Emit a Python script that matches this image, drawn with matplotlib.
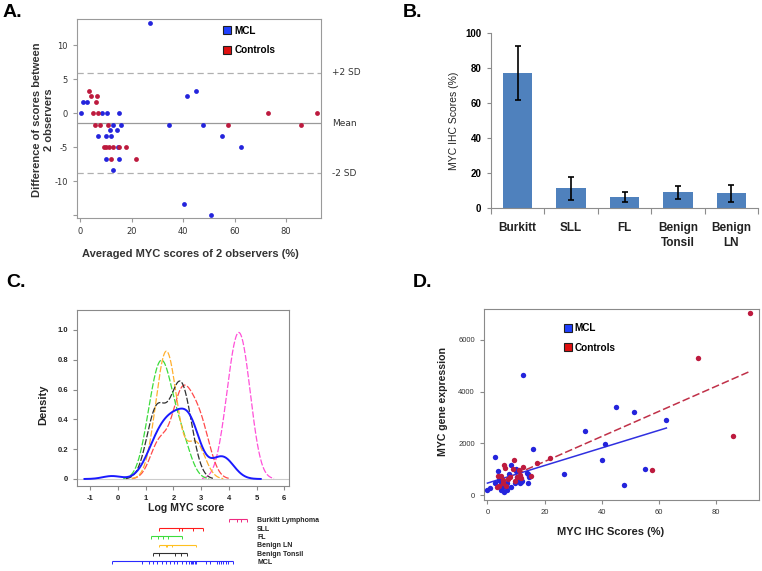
import numpy as np
import matplotlib
matplotlib.use('Agg')
import matplotlib.pyplot as plt
from matplotlib.lines import Line2D
import seaborn as sns

W, H = 762, 571
plt.rcParams['font.family'] = ['Liberation Sans', 'DejaVu Sans']
plt.rcParams['axes.unicode_minus'] = False

# A. agreement between the 2 observers
a_mcl_x = [27.0, 0.3, 1.0, 2.6, 8.6, 10.3, 15.2, 7.0, 10.2, 11.9, 11.5, 14.2, 12.6, 15.9,
           14.7, 10.1, 15.2, 12.6, 34.5, 41.4, 45.2, 47.6, 55.2, 62.6, 40.3, 51.0]
a_mcl_y = [13.33, 0, 1.67, 1.67, 0, 0, 0, -3.33, -3.33, -3.33, -2.5, -2.5, -1.67, -1.67,
           -5, -6.67, -6.67, -8.33, -1.67, 2.5, 3.33, -1.67, -3.33, -5, -13.33, -15]
a_ctl_x = [3.6, 4.1, 6.5, 6.1, 5.2, 7.0, 5.9, 7.7, 11.0, 9.2, 10.1, 11.1, 12.6, 15.0, 17.7,
           11.9, 21.9, 57.5, 73.0, 85.9, 91.9]
a_ctl_y = [3.33, 2.5, 2.5, 1.67, 0, 0, -1.67, -1.67, -1.67, -5, -5, -5, -5, -5, -5,
           -6.67, -6.67, -1.67, 0, -1.67, 0]
a_mean, a_plus2sd, a_minus2sd = -1.45, 5.97, -8.8

# B. MYC IHC scores of the control groups
b_groups = ['Burkitt', 'SLL', 'FL', 'Benign\nTonsil', 'Benign\nLN']
b_means = [77.3, 11.3, 6.3, 9.0, 8.4]
b_err = [15.3, 6.5, 2.6, 3.8, 4.9]

# C. log MYC score per group (rug values)
c_names = ['Burkitt Lymphoma', 'SLL', 'FL', 'Benign LN', 'Benign Tonsil', 'MCL']
c_burkitt = [4.02, 4.30, 4.42, 4.64]
c_sll = [1.49, 2.20, 2.30, 2.70, 3.06]
c_fl = [1.18, 1.45, 1.64, 1.79, 2.30]
c_ln = [1.49, 1.72, 1.78, 1.96, 2.81]
c_tonsil = [1.28, 1.49, 2.06, 2.26, 2.48]
c_mcl_vals = [-0.22, 0.88, 1.13, 1.28, 1.42, 1.58, 1.72, 1.88, 2.02, 2.14, 2.30, 2.44, 2.57,
              2.62, 2.67, 2.72, 2.77, 2.81, 3.18, 3.32, 3.56, 3.65, 3.72, 3.80, 3.90, 3.96, 4.16]
c_mcl_counts = [1, 1, 2, 3, 3, 4, 4, 4, 4, 4, 4, 4, 3,
                2, 2, 2, 2, 2, 1, 1, 1, 1, 1, 2, 1, 1, 1]
c_bw = 0.33

# D. IHC score vs gene expression
d_mcl_x = [12.6, 45.1, 51.1, 62.6, 34.3, 41.3, 40.0, 15.9, 2.6, 26.8, 55.2, 47.7, 0, 0.8,
           2.8, 3.7, 4.1, 8.3, 7.6, 9.9, 10.2, 11.3, 13.7, 14.2, 14.6, 14.2, 4.9, 5.7, 6.7,
           8.4, 9.6, 5.3, 6.7, 4.6, 10.4, 11.9, 10.0, 12.0, 5.0, 6.5]
d_mcl_y = [4642, 3395, 3228, 2919, 2482, 1993, 1363, 1787, 1460, 810, 1016, 386, 190, 293,
           463, 938, 591, 1170, 810, 938, 591, 486, 849, 810, 718, 486, 205, 139, 205,
           332, 463, 332, 486, 463, 695, 525, 1000, 560, 600, 380]
d_ctl_x = [91.9, 73.5, 86.0, 57.7, 21.9, 17.5, 9.2, 5.8, 6.1, 9.0, 12.5, 3.7, 4.6, 5.3, 7.2,
           7.8, 10.2, 11.3, 11.9, 9.6, 15.1, 4.1, 5.5, 6.4, 3.2, 11.0]
d_ctl_y = [7047, 5285, 2289, 990, 1428, 1234, 1363, 1170, 1042, 1015, 1081, 745, 745, 591, 618,
           718, 718, 772, 656, 563, 745, 359, 463, 359, 332, 977]

blue = '#2424dc'
red = '#bd1a3e'

fig = plt.figure(figsize=(W / 100, H / 100), dpi=100)


def box(l, t, r, b):
    return fig.add_axes([l / W, 1 - b / H, (r - l) / W, (b - t) / H])


def square_legend(ax, anchor):
    hs = [Line2D([], [], ls='', marker='s', ms=6, mfc='#2040ff', mec='#202020', mew=0.8),
          Line2D([], [], ls='', marker='s', ms=6, mfc='#e01010', mec='#202020', mew=0.8)]
    ax.legend(hs, ['MCL', 'Controls'], loc='upper left', bbox_to_anchor=anchor, frameon=False,
              handlelength=0.8, handletextpad=0.3, labelspacing=0.95, borderpad=0,
              borderaxespad=0, prop={'weight': 'bold', 'size': 7.2})


# ---------- A ----------
ax = box(77, 19, 321, 218)
ax.scatter(a_mcl_x, a_mcl_y, s=12, color=blue, lw=0, zorder=3)
ax.scatter(a_ctl_x, a_ctl_y, s=12, color=red, lw=0, zorder=3)
ax.axhline(a_mean, color='#9a9a9a', lw=0.9)
for v in (a_plus2sd, a_minus2sd):
    ax.axhline(v, color='#b0b0b0', lw=0.9, ls=(0, (5, 3)))
ax.set_xlim(-1.2, 93.6)
ax.set_ylim(-15.4, 13.9)
ax.set_xticks([0, 20, 40, 60, 80])
ax.set_yticks([-15, -10, -5, 0, 5, 10])
ax.set_yticklabels(['', '-10', '-5', '0', '5', '10'])
for s in ax.spines.values():
    s.set_color('#9a9a9a')
ax.tick_params(color='#9a9a9a', labelcolor='#333333', labelsize=6, length=3, width=0.8,
               labelfontfamily='DejaVu Sans')
tr = ax.get_yaxis_transform()
for v, lab in [(a_plus2sd, '+2 SD'), (a_mean, 'Mean'), (a_minus2sd, '-2 SD')]:
    ax.text(1.045, v, lab, transform=tr, fontsize=6.5, va='center', color='#333333',
            family='DejaVu Sans')
square_legend(ax, (0.6, 0.965))
fig.text(190 / W, 1 - 254 / H, 'Averaged MYC scores of 2 observers (%)', fontsize=8,
         weight='bold', ha='center', va='center', color='#333333')
fig.text(43 / W, 1 - 120 / H, 'Difference of scores between\n2 observers', fontsize=8,
         weight='bold', ha='center', va='center', rotation=90, linespacing=1.3,
         color='#333333')

# ---------- B ----------
axb = box(491, 33, 758, 208)
xb = np.arange(len(b_groups))
axb.bar(xb, b_means, width=0.55, color='#4f81bd', yerr=b_err, capsize=2.5,
        error_kw=dict(elinewidth=1.2, capthick=1.2, ecolor='black'))
axb.set_xlim(-0.5, len(b_groups) - 0.5)
axb.set_ylim(0, 100)
axb.spines[['top', 'right']].set_visible(False)
for s in ('left', 'bottom'):
    axb.spines[s].set_color('#8c8c8c')
axb.set_xticks(np.arange(-0.5, len(b_groups), 1))
axb.set_xticklabels([])
axb.set_xticks(xb, minor=True)
axb.set_xticklabels(b_groups, minor=True, fontsize=8.5, weight='bold', color='#222222',
                    linespacing=1.35)
axb.tick_params(axis='x', which='major', length=4, color='#8c8c8c')
axb.tick_params(axis='x', which='minor', length=0, pad=10)
axb.set_yticks([0, 20, 40, 60, 80, 100])
axb.tick_params(axis='y', length=3, color='#8c8c8c', labelsize=7, pad=4)
for lbl in axb.get_yticklabels():
    lbl.set_weight('bold')
fig.text(454 / W, 1 - 121 / H, 'MYC IHC Scores (%)', fontsize=7.5, ha='center', va='center',
         rotation=90, color='#222222')

# ---------- C ----------
axc = box(77, 310, 289, 486)
c_mcl = np.repeat(c_mcl_vals, c_mcl_counts)
c_sets = [c_burkitt, c_sll, c_fl, c_ln, c_tonsil, c_mcl]
c_colors = ['#ff50d8', '#ff4a4a', '#3cdc3c', '#ffb030', '#303030', '#1a1aff']
rug_colors = ['#ee2a80', '#ff1a1a', '#3cdc3c', '#ffc020', '#303030', '#2a2aff']
for vals, col, name in zip(c_sets, c_colors, c_names):
    solid = name == 'MCL'
    sns.kdeplot(x=vals, ax=axc, bw_method=c_bw / np.std(vals, ddof=1), cut=3, color=col,
                lw=1.4 if solid else 0.9, ls='-' if solid else (0, (5, 1.5)))
axc.axhline(0, color='#cccccc', lw=0.8, zorder=0)
axc.set_xlim(-1.48, 6.17)
axc.set_ylim(-0.047, 1.134)
axc.set_xlabel('')
axc.set_ylabel('')
axc.set_xticks(range(-1, 7))
axc.set_yticks([0, 0.2, 0.4, 0.6, 0.8, 1.0])
axc.set_yticklabels(['0', '0.2', '0.4', '0.6', '0.8', '1.0'])
for s in axc.spines.values():
    s.set_color('#8a8a8a')
axc.tick_params(color='#8a8a8a', labelsize=5.5, length=3, width=0.8, labelcolor='#222222')
for lbl in axc.get_xticklabels() + axc.get_yticklabels():
    lbl.set_weight('bold')
fig.text(43 / W, 1 - 405 / H, 'Density', fontsize=8, weight='bold', ha='center', va='center',
         rotation=90, color='#222222')
fig.text(186 / W, 1 - 508 / H, 'Log MYC score', fontsize=7.6, weight='bold', ha='center',
         va='center', color='#222222')

axr = box(77, 512, 289, 568)
axr.set_xlim(axc.get_xlim())
axr.set_ylim(568, 512)
axr.axis('off')
uniq = [c_burkitt, c_sll, c_fl, c_ln, c_tonsil, c_mcl_vals]
for i, (vals, col, name) in enumerate(zip(uniq, rug_colors, c_names)):
    y = 520.7 + 8.4 * i
    axr.hlines(y - 1.4, min(vals), max(vals), color=col, lw=0.8)
    axr.vlines(vals, y - 1.4, y + 1.4, color=col, lw=0.7)
    axr.text(0.85, y, name, transform=axr.get_yaxis_transform(), fontsize=5, weight='bold',
             va='center', color='#222222')

# ---------- D ----------
axd = box(484, 309, 759, 500)
axd.scatter(d_mcl_x, d_mcl_y, s=15, color=blue, lw=0, zorder=3)
axd.scatter(d_ctl_x, d_ctl_y, s=15, color=red, lw=0, zorder=3)
for xs, ys, col, ls in [(d_mcl_x, d_mcl_y, '#3030e0', '-'), (d_ctl_x, d_ctl_y, '#c03048', (0, (5, 2)))]:
    k, b0 = np.polyfit(xs, ys, 1)
    xx = np.array([min(xs), max(xs)])
    axd.plot(xx, k * xx + b0, color=col, lw=1.1, ls=ls, zorder=2)
axd.set_xlim(-1.2, 95)
axd.set_ylim(-180, 7185)
axd.set_xticks([0, 20, 40, 60, 80])
axd.set_yticks([0, 2000, 4000, 6000])
for s in axd.spines.values():
    s.set_color('#8a8a8a')
axd.tick_params(color='#8a8a8a', labelsize=5.5, length=3, width=0.8, labelcolor='#333333')
square_legend(axd, (0.29, 0.925))
fig.text(611 / W, 1 - 532 / H, 'MYC IHC Scores (%)', fontsize=8, weight='bold', ha='center',
         va='center', color='#222222')
fig.text(443 / W, 1 - 402 / H, 'MYC gene expression', fontsize=7.6, weight='bold',
         ha='center', va='center', rotation=90, color='#222222')

# panel letters
for px, py, lab in [(3, 4, 'A.'), (403, 4, 'B.'), (6, 274, 'C.'), (413, 274, 'D.')]:
    fig.text(px / W, 1 - py / H, lab, fontsize=14, weight='bold', va='top', ha='left')

fig.savefig('out.png', dpi=100)
